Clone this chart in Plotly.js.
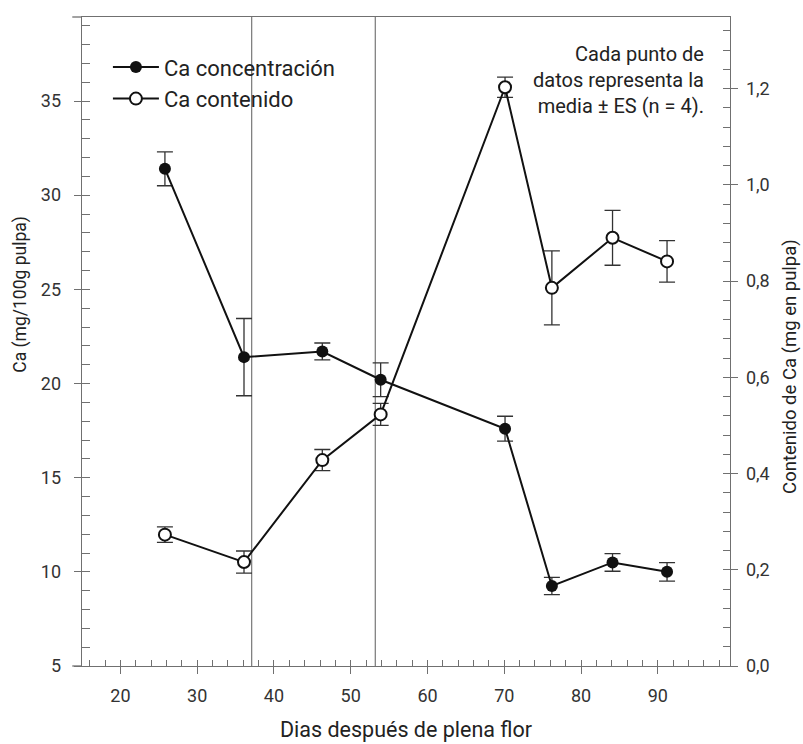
<!DOCTYPE html>
<html>
<head>
<meta charset="utf-8">
<script src="https://cdn.plot.ly/plotly-3.0.1.min.js"></script>
<style>html,body{margin:0;padding:0;background:#fff;}#chart{width:803px;height:744px;}</style>
</head>
<body>
<div id="chart"></div>
<script>
// Days after full bloom
const dias = [25.8, 36.1, 46.3, 53.9, 70.1, 76.2, 84.1, 91.2];
// Ca concentration (mg/100 g pulp) and standard error
const caConc = [31.4, 21.4, 21.7, 20.2, 17.6, 9.25, 10.5, 10.0];
const caConcES = [0.9, 2.05, 0.45, 0.9, 0.66, 0.46, 0.47, 0.49];
// Ca content (mg in pulp) and standard error
const caCont = [0.273, 0.216, 0.428, 0.523, 1.203, 0.786, 0.890, 0.841];
const caContES = [0.016, 0.023, 0.022, 0.023, 0.021, 0.077, 0.057, 0.043];
// Reference vertical lines (days)
const lineasRef = [37.1, 53.2];
// Text
const tituloX = 'Dias después de plena flor';
const tituloY1 = 'Ca (mg/100g pulpa)';
const tituloY2 = 'Contenido de Ca (mg en pulpa)';
const nota = 'Cada punto de<br>datos representa la<br>media ± ES (n = 4).';

const FONT = 'Roboto, "Noto Sans", sans-serif';
const AX = '#707070';

const traces = [
  {
    x: dias, y: caConc, name: 'Ca concentración', type: 'scatter', mode: 'lines+markers',
    line: {color: '#111', width: 2},
    marker: {color: '#111', size: 12, symbol: 'circle'},
    error_y: {type: 'data', array: caConcES, visible: true, color: '#333', thickness: 1.3, width: 8},
    yaxis: 'y'
  },
  {
    x: dias, y: caCont, name: 'Ca contenido', type: 'scatter', mode: 'lines+markers',
    line: {color: '#111', width: 2},
    marker: {color: '#fff', size: 12, symbol: 'circle', line: {color: '#111', width: 2}},
    error_y: {type: 'data', array: caContES, visible: true, color: '#333', thickness: 1.3, width: 8},
    yaxis: 'y2'
  }
];

const shapes = lineasRef.map(v => ({
  type: 'line', xref: 'x', yref: 'paper', x0: v, x1: v, y0: 0, y1: 1,
  line: {color: '#777', width: 1.2}, layer: 'below'
})).concat([0, 1].map(yy => ({
  type: 'line', xref: 'paper', yref: 'paper', x0: -0.015, x1: 0, y0: yy, y1: yy,
  line: {color: AX, width: 1.3}, layer: 'below'
})));

const layout = {
  width: 803, height: 744,
  margin: {l: 82, r: 73, t: 17, b: 78, pad: 0},
  paper_bgcolor: '#fff', plot_bgcolor: '#fff',
  separators: ',.',
  font: {family: FONT, color: '#333', size: 18},
  showlegend: true,
  legend: {
    x: 0.04, y: 0.955, xanchor: 'left', yanchor: 'top',
    bgcolor: 'rgba(0,0,0,0)', font: {size: 22, color: '#222', family: FONT},
    itemwidth: 46, tracegroupgap: 0
  },
  xaxis: {
    range: [15, 99.4], showgrid: false, zeroline: false,
    showline: true, linecolor: AX, linewidth: 1.3, mirror: true,
    tickvals: [20, 30, 40, 50, 60, 70, 80, 90], ticks: 'outside', ticklen: 7, tickcolor: AX,
    minor: {ticks: 'inside', tick0: 0, dtick: 2, ticklen: 6, tickcolor: AX, showgrid: false},
    ticklabelstandoff: 6,
    tickfont: {size: 18, color: '#333'}
  },
  yaxis: {
    range: [5, 39.46], showgrid: false, zeroline: false,
    showline: true, linecolor: AX, linewidth: 1.3,
    tickmode: 'linear', tick0: 0, dtick: 5, ticks: 'outside', ticklen: 7, tickcolor: AX,
    minor: {ticks: 'inside', tick0: 0, dtick: 1, ticklen: 8, tickcolor: AX, showgrid: false},
    ticklabelstandoff: 9,
    tickfont: {size: 18, color: '#333'}
  },
  yaxis2: {
    overlaying: 'y', side: 'right', anchor: 'x',
    range: [0, 1.349], showgrid: false, zeroline: false,
    showline: true, linecolor: AX, linewidth: 1.3,
    tickmode: 'linear', tick0: 0, dtick: 0.2, tickformat: '.1f', ticks: 'outside', ticklen: 7, tickcolor: AX,
    minor: {ticks: 'inside', tick0: 0, dtick: 0.04, ticklen: 7, tickcolor: AX, showgrid: false},
    ticklabelstandoff: 4,
    tickfont: {size: 18, color: '#333'}
  },
  shapes: shapes,
  annotations: [
    {
      xref: 'paper', yref: 'paper', x: 0.963, y: 0.9025, xanchor: 'right', yanchor: 'middle',
      align: 'right', showarrow: false, text: nota,
      font: {size: 20, color: '#222', family: FONT}
    },
    {
      xref: 'paper', yref: 'paper', x: 0.5, y: -0.0985, xanchor: 'center', yanchor: 'middle',
      showarrow: false, text: tituloX, font: {size: 21.5, color: '#222', family: FONT}
    },
    {
      xref: 'paper', yref: 'paper', x: -0.0952, y: 0.5727, xanchor: 'center', yanchor: 'middle',
      showarrow: false, textangle: -90, text: tituloY1, font: {size: 17.5, color: '#222', family: FONT}
    },
    {
      xref: 'paper', yref: 'paper', x: 1.0935, y: 0.4618, xanchor: 'center', yanchor: 'middle',
      showarrow: false, textangle: -90, text: tituloY2, font: {size: 18.5, color: '#222', family: FONT}
    }
  ]
};

Plotly.newPlot('chart', traces, layout, {displayModeBar: false, staticPlot: true});
</script>
</body>
</html>
